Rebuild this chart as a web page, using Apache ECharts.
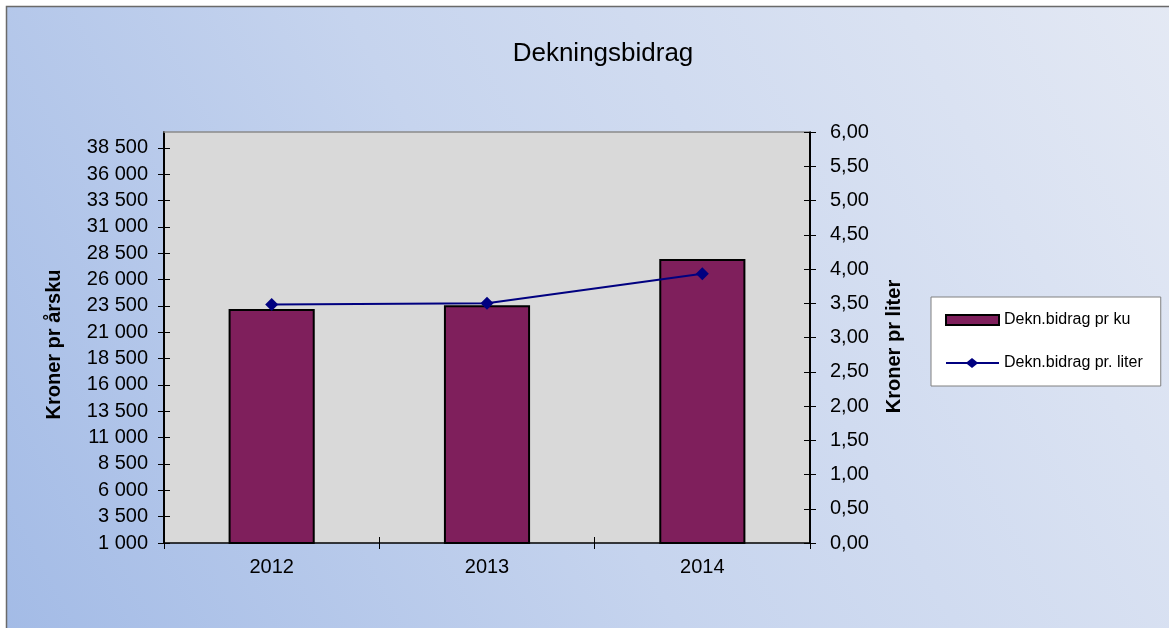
<!DOCTYPE html>
<html>
<head>
<meta charset="utf-8">
<script src="https://cdn.jsdelivr.net/npm/echarts@6/dist/echarts.min.js"></script>
<style>
html,body{margin:0;padding:0;background:#fff;}
#c{width:1169px;height:628px;}
</style>
</head>
<body>
<div id="c"></div>
<script>
const categories = ['2012', '2013', '2014'];
const perCow = [23200, 23550, 27950];
const perLiter = [3.48, 3.50, 3.93];
const leftTicks = [1000, 3500, 6000, 8500, 11000, 13500, 16000, 18500, 21000, 23500, 26000, 28500, 31000, 33500, 36000, 38500];
const rightTicks = [0, 0.5, 1, 1.5, 2, 2.5, 3, 3.5, 4, 4.5, 5, 5.5, 6];
const seriesNames = ['Dekn.bidrag pr ku', 'Dekn.bidrag pr. liter'];

const FONT = 'Liberation Sans, Arial, sans-serif';
const fmtLeft = v => String(v).replace(/\B(?=(\d{3})+(?!\d))/g, ' ');
const fmtRight = v => Number(v).toFixed(2).replace('.', ',');

const chart = echarts.init(document.getElementById('c'), null, {renderer: 'canvas'});

function yAx(pos, min, max, ticks, withLabels, inside, extra) {
  return Object.assign({
    type: 'value', position: pos, min: min, max: max,
    splitLine: {show: false},
    axisLine: {show: withLabels, lineStyle: {color: '#000', width: 2}},
    axisTick: {show: true, inside: inside, length: 6, customValues: ticks, lineStyle: {color: '#000'}},
    axisLabel: {show: withLabels, customValues: ticks, color: '#000', fontSize: 20, fontFamily: FONT}
  }, extra || {});
}

chart.setOption({
  animation: false,
  graphic: [{
    type: 'rect', z: -10, silent: true,
    shape: {x: 6.5, y: 6.5, width: 1170, height: 630},
    style: {
      fill: new echarts.graphic.LinearGradient(0, 1, 1, 0, [
        {offset: 0, color: '#a3bbe6'},
        {offset: 0.45, color: '#c6d4ee'},
        {offset: 1, color: '#e4e9f4'}
      ]),
      stroke: '#6a6a6a', lineWidth: 1.5
    }
  }],
  title: {
    text: 'Dekningsbidrag', left: 598, top: 36, textAlign: 'center',
    textStyle: {fontSize: 26, fontWeight: 'normal', color: '#000', fontFamily: FONT}
  },
  legend: {
    orient: 'vertical', left: 931, top: 297,
    backgroundColor: '#fff', borderColor: '#808080', borderWidth: 1,
    padding: [15, 18, 15, 14], itemGap: 27, itemWidth: 53, itemHeight: 10,
    textStyle: {fontSize: 16, color: '#000', fontFamily: FONT},
    data: [
      {name: seriesNames[0], icon: 'rect'},
      {name: seriesNames[1], icon: 'path://M0,4H21L26,0L31,4H53V6H31L26,10L21,6H0Z'}
    ]
  },
  grid: {
    left: 164, right: 359, top: 132, bottom: 85,
    show: true, backgroundColor: '#d9d9d9', borderWidth: 0
  },
  xAxis: [{
    type: 'category', data: categories, position: 'bottom',
    axisLine: {lineStyle: {color: '#000', width: 1.5}},
    axisTick: {show: true, length: 6, lineStyle: {color: '#000'}},
    axisLabel: {color: '#000', fontSize: 20, fontFamily: FONT, margin: 14}
  }, {
    type: 'category', data: categories, position: 'bottom',
    axisLine: {show: false},
    axisTick: {show: true, inside: true, length: 6, lineStyle: {color: '#000'}},
    axisLabel: {show: false}
  }, {
    type: 'category', data: categories, position: 'top',
    axisLine: {show: true, lineStyle: {color: '#8a8a8a', width: 1.5}},
    axisTick: {show: false},
    axisLabel: {show: false}
  }],
  yAxis: [
    yAx('left', 1000, 40000, leftTicks, true, false, {
      name: 'Kroner pr årsku', nameLocation: 'middle', nameGap: 100, nameRotate: 90,
      nameTextStyle: {fontSize: 20, fontWeight: 'bold', color: '#000', fontFamily: FONT, padding: [0, 14, 0, 0]},
      axisLabel: {show: true, customValues: leftTicks, color: '#000', fontSize: 20, fontFamily: FONT, margin: 16, formatter: fmtLeft}
    }),
    yAx('right', 0, 6, rightTicks, true, false, {
      name: 'Kroner pr liter', nameLocation: 'middle', nameGap: 74, nameRotate: 90,
      nameTextStyle: {fontSize: 20, fontWeight: 'bold', color: '#000', fontFamily: FONT, padding: [0, 18, 0, 0]},
      axisLabel: {show: true, customValues: rightTicks, color: '#000', fontSize: 20, fontFamily: FONT, margin: 20, formatter: fmtRight}
    }),
    yAx('left', 1000, 40000, leftTicks, false, true),
    yAx('right', 0, 6, rightTicks, false, true)
  ],
  series: [{
    name: seriesNames[0], type: 'bar', data: perCow, xAxisIndex: 0, yAxisIndex: 0,
    barWidth: '40%',
    itemStyle: {color: '#7f1f5c', borderColor: '#000', borderWidth: 2}
  }, {
    name: seriesNames[1], type: 'line', data: perLiter, xAxisIndex: 0, yAxisIndex: 1,
    symbol: 'diamond', symbolSize: 13,
    lineStyle: {color: '#000080', width: 2},
    itemStyle: {color: '#000080'}
  }]
});
</script>
</body>
</html>
